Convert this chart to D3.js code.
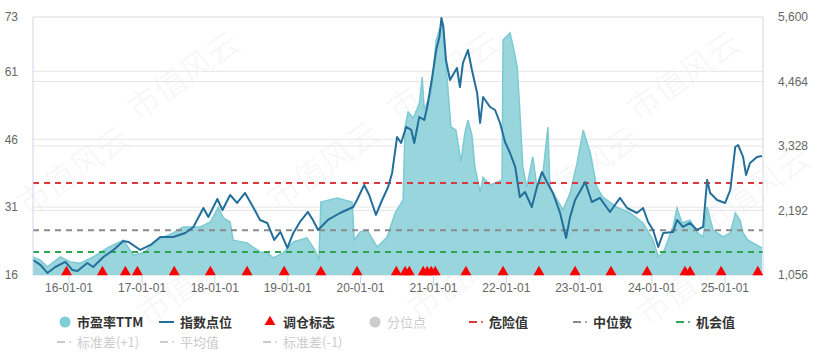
<!DOCTYPE html>
<html>
<head>
<meta charset="utf-8">
<script src="https://cdn.jsdelivr.net/npm/d3@7"></script>
<style>
  body { margin: 0; background: #fff; }
  svg { display: block; font-family: "Noto Sans CJK SC", "Noto Sans", sans-serif; }
</style>
</head>
<body>
<svg id="chart" width="832" height="362"></svg>
<script>
// PE TTM (left axis)
const peDates = ['2015-07-07','2015-08-13','2015-09-17','2015-11-21','2016-01-10','2016-03-01','2016-05-04','2016-07-14',
  '2016-10-02','2016-11-22','2017-01-11','2017-03-21','2017-06-09','2017-07-29','2017-10-23','2017-12-12','2018-01-21',
  '2018-02-16','2018-03-21','2018-04-05','2018-06-14','2018-08-18','2018-09-23','2018-10-23','2018-12-12','2019-02-01',
  '2019-04-10','2019-05-20','2019-06-09','2019-06-19','2019-09-08','2019-11-23','2019-12-03','2020-01-02','2020-02-06',
  '2020-03-27','2020-05-16','2020-06-25','2020-08-04','2020-08-14','2020-08-29','2020-09-24','2020-10-24','2020-11-08',
  '2020-11-18','2020-12-23','2021-01-17','2021-02-02','2021-02-17','2021-03-12','2021-04-01','2021-04-26','2021-05-21',
  '2021-06-10','2021-06-25','2021-07-15','2021-07-30','2021-08-25','2021-09-09','2021-10-14','2021-11-18','2021-12-13',
  '2021-12-18','2022-01-22','2022-02-07','2022-02-27','2022-03-12','2022-03-27','2022-04-16','2022-05-16','2022-06-06',
  '2022-07-06','2022-07-31','2022-08-10','2022-09-15','2022-10-15','2022-11-19','2022-12-24','2023-01-24','2023-02-28',
  '2023-04-02','2023-05-02','2023-07-12','2023-09-16','2023-11-20','2024-01-09','2024-02-04','2024-02-29','2024-04-18',
  '2024-05-08','2024-06-02','2024-07-12','2024-08-16','2024-09-16','2024-10-06','2024-11-05','2024-12-25','2025-01-30',
  '2025-02-24','2025-03-20','2025-04-04','2025-04-29','2025-06-13','2025-07-08'];
const peValues = [20.0,19.3,17.8,20.0,18.9,18.6,20.0,22.0,
  23.7,20.4,20.9,23.7,25.3,26.6,26.6,27.7,31.0,
  28.6,27.7,23.7,23.1,21.1,20.9,19.8,20.9,23.3,
  24.2,21.5,19.3,32.1,33.0,32.1,23.7,25.5,25.9,
  22.2,24.4,29.7,32.6,48.7,52.0,50.7,53.8,59.7,
  52.5,56.2,67.9,70.1,71.7,59.7,48.7,48.0,41.0,
  47.4,50.2,46.9,39.9,34.3,37.6,35.9,36.5,37.0,
  67.9,69.5,66.4,62.0,52.5,39.9,35.4,42.1,35.4,
  38.5,48.7,35.4,32.6,30.4,34.1,40.7,48.0,43.0,
  35.4,33.2,31.0,29.7,27.5,23.7,20.0,20.9,26.6,
  30.8,27.5,28.1,25.5,24.4,31.0,25.9,24.4,25.3,
  29.7,28.1,25.3,23.7,22.6,22.0];

// index points (right axis)
const idxDates = ['2015-07-07','2015-08-13','2015-09-17','2015-10-27','2015-12-16','2016-01-20','2016-02-15','2016-04-04',
  '2016-05-04','2016-05-24','2016-06-24','2016-08-13','2016-10-02','2016-10-27','2016-12-26','2017-02-15','2017-04-05',
  '2017-06-09','2017-08-08','2017-09-18','2017-11-07','2017-12-02','2018-01-16','2018-02-11','2018-03-21','2018-04-25',
  '2018-06-04','2018-07-14','2018-08-18','2018-09-23','2018-10-28','2018-11-28','2019-01-02','2019-02-01','2019-03-06',
  '2019-04-15','2019-05-10','2019-06-05','2019-07-24','2019-09-23','2019-11-28','2019-12-17','2020-01-22','2020-02-16',
  '2020-03-21','2020-04-21','2020-05-21','2020-06-10','2020-07-05','2020-07-25','2020-08-19','2020-09-14','2020-09-29',
  '2020-10-24','2020-11-18','2020-12-03','2020-12-28','2021-01-17','2021-02-02','2021-02-12','2021-02-22','2021-03-07',
  '2021-03-27','2021-05-01','2021-05-16','2021-05-31','2021-06-25','2021-07-15','2021-08-10','2021-08-25','2021-09-09',
  '2021-10-14','2021-11-08','2021-12-03','2021-12-28','2022-01-22','2022-02-17','2022-03-12','2022-04-07','2022-05-11',
  '2022-06-06','2022-07-01','2022-07-26','2022-08-25','2022-09-30','2022-10-30','2022-11-19','2022-12-14','2023-02-03',
  '2023-03-08','2023-04-17','2023-06-07','2023-07-27','2023-09-01','2023-10-20','2023-11-20','2023-12-15','2024-01-09',
  '2024-02-04','2024-02-29','2024-04-18','2024-05-08','2024-06-07','2024-07-12','2024-08-16','2024-09-16','2024-10-06',
  '2024-10-21','2024-11-25','2025-01-04','2025-01-30','2025-02-24','2025-03-10','2025-04-04','2025-04-19','2025-05-09',
  '2025-06-13','2025-07-08'];
const idxValues = [1321,1233,1092,1197,1286,1145,1127,1268,
  1197,1268,1374,1497,1655,1638,1497,1585,1726,
  1726,1796,1902,2237,2078,2395,2201,2465,2325,
  2501,2254,2025,1972,1673,1814,1532,1796,1990,
  2166,2025,1849,2025,2148,2254,2377,2642,2465,
  2113,2377,2606,2853,3487,3381,3663,3610,3381,
  3839,3786,4015,4543,5019,5248,5582,5424,4843,
  4491,4702,4367,4790,5019,4667,4262,3733,4191,
  4015,3962,3733,3399,3205,2959,2430,2518,2254,
  2606,2870,2694,2501,2148,1708,2078,2377,2694,
  2342,2413,2166,2413,2236,2148,2236,1990,1849,
  1550,1796,1814,2025,1902,1972,1849,1902,2730,
  2501,2377,2325,2553,3311,3346,3135,2818,3029,
  3135,3152];

// rebalance markers
const rebalanceDates = ['2015-12-22','2016-06-19','2016-10-12','2016-12-11','2017-06-14','2017-12-12','2018-06-14',
  '2018-12-17','2019-06-19','2019-12-17','2020-07-01','2020-08-14','2020-09-04','2020-11-13','2020-12-03','2020-12-23',
  '2021-01-12','2021-06-15','2021-12-18','2022-06-16','2022-12-14','2023-06-12','2023-12-10','2024-06-17','2024-07-12',
  '2024-12-15','2025-06-17'];

// reference levels (PE)
const dangerValue = 36.3;
const medianValue = 25.9;
const chanceValue = 21.1;

const leftTicks = [16, 31, 46, 61, 73];
const rightTicks = [1056, 2192, 3328, 4464, 5600];
const xTickDates = ['2016-01-01','2017-01-01','2018-01-01','2019-01-01','2020-01-01','2021-01-01','2022-01-01','2023-01-01','2024-01-01','2025-01-01'];

const parse = d3.timeParse('%Y-%m-%d');
const pe = peDates.map((d, i) => ({ date: parse(d), value: peValues[i] }));
const idx = idxDates.map((d, i) => ({ date: parse(d), value: idxValues[i] }));

const margin = { top: 17, left: 33, right: 69, bottom: 87 };
const width = 832 - margin.left - margin.right;
const height = 362 - margin.top - margin.bottom;

const svg = d3.select('#chart');

// watermark (behind everything)
const marks = [[190, 85], [450, 85], [690, 85], [80, 180], [330, 175], [590, 180], [760, 200], [200, 290], [470, 285], [700, 290]];
svg.append('g').selectAll('text').data(marks).join('text')
  .attr('transform', d => `translate(${d[0]},${d[1]}) rotate(-35)`)
  .attr('text-anchor', 'middle')
  .style('font-size', '32px')
  .attr('fill', '#000')
  .attr('fill-opacity', 0.04)
  .text('市值风云');

const plot = svg.append('g').attr('transform', `translate(${margin.left},${margin.top})`);

const x = d3.scaleTime()
  .domain([parse('2015-07-07'), parse('2025-07-13')])
  .range([0, width]);
const yL = d3.scaleLinear().domain([16, 73]).range([height, 0]);
const yR = d3.scaleLinear().domain([1056, 5600]).range([height, 0]);

// grid lines
plot.append('g').selectAll('line').data(leftTicks).join('line')
  .attr('x1', 0).attr('x2', width)
  .attr('y1', d => yL(d)).attr('y2', d => yL(d))
  .attr('stroke', '#e6e6e6');
plot.append('g').selectAll('line').data(rightTicks).join('line')
  .attr('x1', 0).attr('x2', width)
  .attr('y1', d => yR(d)).attr('y2', d => yR(d))
  .attr('stroke', '#e6e6e6');

// PE area
const area = d3.area().x(d => x(d.date)).y0(height).y1(d => yL(d.value));
plot.append('path').datum(pe)
  .attr('d', area)
  .attr('fill', '#93d3da')
  .attr('fill-opacity', 0.95);
plot.append('path').datum(pe)
  .attr('d', d3.line().x(d => x(d.date)).y(d => yL(d.value)))
  .attr('fill', 'none')
  .attr('stroke', '#7ccad3')
  .attr('stroke-width', 1.5);

// reference dashed lines
[[dangerValue, '#d9393c'], [medianValue, '#8a8a8a'], [chanceValue, '#2ea351']].forEach(([v, c]) => {
  plot.append('line')
    .attr('x1', 0).attr('x2', width)
    .attr('y1', yL(v)).attr('y2', yL(v))
    .attr('stroke', c).attr('stroke-width', 2)
    .attr('stroke-dasharray', '6,5');
});

// index line
plot.append('path').datum(idx)
  .attr('d', d3.line().x(d => x(d.date)).y(d => yR(d.value)))
  .attr('fill', 'none')
  .attr('stroke', '#236f9b')
  .attr('stroke-width', 2)
  .attr('stroke-linejoin', 'round');

// axis frame lines
plot.append('line').attr('x1', 0).attr('x2', 0).attr('y1', 0).attr('y2', height).attr('stroke', '#ccd6eb');
plot.append('line').attr('x1', width).attr('x2', width).attr('y1', 0).attr('y2', height).attr('stroke', '#ccd6eb');

// rebalance triangles
plot.append('g').selectAll('path').data(rebalanceDates.map(parse)).join('path')
  .attr('d', d3.symbol(d3.symbolTriangle, 52))
  .attr('transform', d => `translate(${x(d)},${height - 3})`)
  .attr('fill', '#ff0000');

// x axis
const xAxis = d3.axisBottom(x)
  .tickValues(xTickDates.map(parse))
  .tickFormat(d3.timeFormat('%y-%m-%d'))
  .tickSize(9)
  .tickPadding(6);
const gx = plot.append('g').attr('transform', `translate(0,${height})`).call(xAxis);
gx.select('.domain').remove();
gx.selectAll('line').attr('stroke', '#ccd6eb');
gx.selectAll('text').attr('fill', '#666').style('font-size', '12px').attr('dy', '0.2em');

// left axis
const gl = plot.append('g').call(d3.axisLeft(yL).tickValues(leftTicks).tickSize(0).tickPadding(15));
gl.select('.domain').remove();
gl.selectAll('text').attr('fill', '#666').style('font-size', '12px').attr('dy', '0.32em');

// right axis
const gr = plot.append('g').attr('transform', `translate(${width},0)`)
  .call(d3.axisRight(yR).tickValues(rightTicks).tickSize(0).tickPadding(15).tickFormat(d3.format(',')));
gr.select('.domain').remove();
gr.selectAll('text').attr('fill', '#666').style('font-size', '12px').attr('dy', '0.32em');

// legend
const legend = svg.append('g');
const row1 = 322, row2 = 342;
const legendItems = [
  { label: '市盈率TTM', type: 'circle', color: '#7fcdd6', x: 77, y: row1, on: true },
  { label: '指数点位', type: 'line', color: '#236f9b', x: 180, y: row1, on: true },
  { label: '调仓标志', type: 'triangle', color: '#ff0000', x: 283, y: row1, on: true },
  { label: '分位点', type: 'circle', color: '#cccccc', x: 387, y: row1, on: false },
  { label: '危险值', type: 'dash', color: '#d9393c', x: 489, y: row1, on: true },
  { label: '中位数', type: 'dash', color: '#8a8a8a', x: 593, y: row1, on: true },
  { label: '机会值', type: 'dash', color: '#2ea351', x: 696, y: row1, on: true },
  { label: '标准差(+1)', type: 'dash', color: '#cccccc', x: 77, y: row2, on: false },
  { label: '平均值', type: 'dash', color: '#cccccc', x: 180, y: row2, on: false },
  { label: '标准差(-1)', type: 'dash', color: '#cccccc', x: 283, y: row2, on: false }
];
legendItems.forEach(it => {
  const g = legend.append('g');
  if (it.type === 'circle') {
    g.append('circle').attr('cx', it.x - 12).attr('cy', it.y).attr('r', 5.5).attr('fill', it.color);
  } else if (it.type === 'line') {
    g.append('line').attr('x1', it.x - 21).attr('x2', it.x - 6).attr('y1', it.y).attr('y2', it.y)
      .attr('stroke', it.color).attr('stroke-width', 2);
  } else if (it.type === 'triangle') {
    g.append('path').attr('d', d3.symbol(d3.symbolTriangle, 50))
      .attr('transform', `translate(${it.x - 13},${it.y})`).attr('fill', it.color);
  } else {
    g.append('line').attr('x1', it.x - 20).attr('x2', it.x - 12).attr('y1', it.y).attr('y2', it.y)
      .attr('stroke', it.color).attr('stroke-width', 2);
    g.append('circle').attr('cx', it.x - 7).attr('cy', it.y).attr('r', 1).attr('fill', it.color);
  }
  g.append('text').attr('x', it.x).attr('y', it.y).attr('dy', '0.35em')
    .style('font-size', '13px').style('font-weight', it.on ? 'bold' : 'normal')
    .attr('fill', it.on ? '#333' : '#cccccc')
    .text(it.label);
});
</script>
</body>
</html>
